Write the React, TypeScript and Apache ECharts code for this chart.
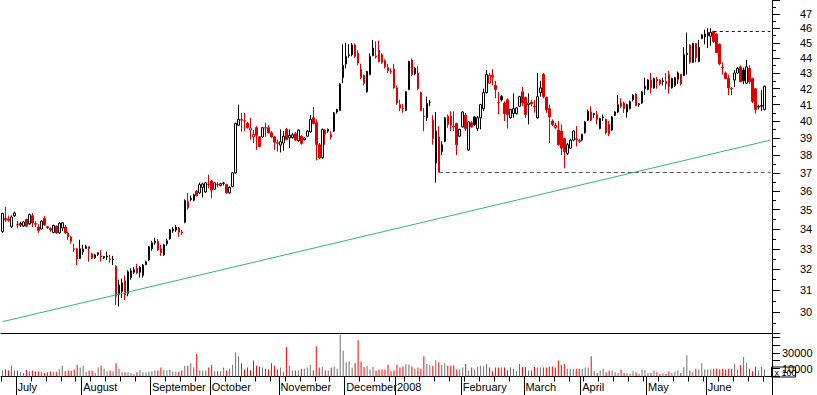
import React, { useEffect, useRef } from 'react';
import * as echarts from 'echarts';

// [open, close, low, high] per trading day, grouped by month
const jun07 = [
  [33.87, 34.8, 33.8, 34.84], [34.55, 34.47, 34.37, 35.15], [34.5, 34.45, 34.37, 34.7], [34.12, 34.62, 34.05, 34.7], [34.68, 34.83, 34.62, 34.9],
];
const jul07 = [
  [34.22, 34.2, 34.04, 34.42], [34.2, 34.28, 34.1, 34.37], [34.15, 34.36, 34.1, 34.4], [34.5, 34.14, 34.1, 34.52], [34.26, 34.75, 34.22, 34.8],
  [34.68, 34.32, 34.1, 34.82], [34.27, 34.25, 34.1, 34.4], [34.1, 33.92, 33.8, 34.25], [34.0, 34.4, 33.98, 34.45], [34.55, 34.2, 34.18, 34.68],
  [34.12, 34.06, 34.0, 34.15], [34.02, 33.95, 33.86, 34.08], [33.82, 34.18, 33.78, 34.22], [34.14, 33.8, 33.75, 34.18], [33.8, 34.3, 33.75, 34.35],
  [34.05, 34.32, 33.9, 34.35], [34.1, 33.8, 33.76, 34.2], [33.78, 33.6, 33.45, 33.86], [33.58, 33.38, 33.25, 33.65], [33.0, 32.97, 32.85, 33.25],
  [33.0, 32.5, 32.2, 33.05], [33.0, 32.52, 32.5, 33.45],
];
const aug07 = [
  [32.85, 32.98, 32.7, 33.2], [33.02, 33.12, 33.0, 33.2], [33.0, 33.1, 32.37, 33.12], [32.75, 32.53, 32.5, 32.8], [32.55, 32.7, 32.5, 32.75],
  [32.8, 32.72, 32.65, 32.82], [32.65, 32.6, 32.37, 32.94], [32.55, 32.62, 32.5, 32.65], [32.6, 32.64, 32.45, 32.86], [32.5, 32.48, 32.32, 32.7],
  [32.47, 32.5, 32.2, 32.65], [32.15, 30.72, 30.32, 32.2], [30.8, 31.25, 30.25, 31.5], [30.95, 31.35, 30.65, 31.55], [31.45, 30.78, 30.55, 31.7],
  [30.85, 31.88, 30.72, 31.95], [31.6, 31.92, 31.5, 32.05], [31.85, 31.98, 31.78, 32.1], [32.05, 31.82, 31.78, 32.26], [31.85, 32.1, 31.6, 32.15],
  [31.7, 32.2, 31.6, 32.25], [32.22, 32.36, 32.2, 32.42], [32.45, 33.1, 32.4, 33.15],
];
const sep07 = [
  [33.0, 33.3, 32.9, 33.4], [33.3, 33.38, 33.2, 33.55], [33.36, 32.95, 32.9, 33.5], [33.0, 32.8, 32.65, 33.2], [32.7, 33.2, 32.65, 33.25],
  [33.25, 33.4, 33.15, 33.5], [33.5, 33.95, 33.45, 34.0], [33.9, 34.0, 33.8, 34.1], [33.95, 34.1, 33.85, 34.2], [34.05, 33.85, 33.6, 34.1],
  [33.85, 33.8, 33.7, 33.95], [34.35, 35.5, 34.3, 35.55], [35.1, 35.45, 35.0, 35.9], [35.6, 35.55, 35.45, 35.75], [35.5, 35.8, 35.45, 35.85],
  [36.0, 35.75, 35.7, 36.05], [35.9, 36.35, 35.85, 36.45], [36.2, 36.38, 35.65, 36.45], [35.95, 36.45, 35.9, 36.5], [36.38, 36.36, 36.15, 36.9],
];
const oct07 = [
  [36.55, 36.05, 35.6, 36.6], [36.1, 36.45, 36.05, 36.5], [36.37, 36.35, 36.2, 36.5], [36.3, 36.4, 36.25, 36.45], [36.42, 36.44, 36.3, 36.5],
  [36.35, 35.9, 35.85, 36.4], [35.9, 36.2, 35.85, 36.25], [36.25, 37.0, 36.2, 37.05], [37.0, 39.86, 36.95, 39.9], [39.75, 40.1, 39.7, 41.0],
  [40.08, 40.06, 39.36, 40.5], [40.02, 40.0, 39.4, 40.5], [39.86, 39.6, 39.55, 39.95], [39.46, 39.58, 38.9, 40.2], [39.06, 39.2, 38.7, 39.46],
  [39.6, 39.15, 38.3, 39.7], [39.06, 38.5, 38.45, 39.1], [39.06, 39.6, 39.0, 39.65], [39.6, 39.58, 39.06, 39.9], [39.6, 39.3, 39.25, 39.75],
  [39.3, 39.06, 39.0, 39.4], [39.06, 38.75, 38.3, 39.1], [38.68, 38.72, 38.2, 38.9],
];
const nov07 = [
  [38.58, 38.77, 38.15, 39.5], [38.7, 39.1, 38.25, 39.4], [39.5, 38.9, 38.85, 39.6], [39.0, 39.15, 38.4, 39.5], [39.02, 39.18, 38.95, 39.3],
  [39.25, 38.87, 38.8, 39.35], [38.83, 39.46, 38.78, 39.5], [39.1, 38.68, 38.6, 39.15], [38.9, 39.0, 38.85, 39.05], [39.1, 39.4, 39.05, 39.45],
  [39.36, 40.1, 39.3, 40.36], [40.2, 39.86, 39.8, 40.85], [39.9, 38.6, 37.7, 40.1], [38.6, 37.85, 37.78, 38.7], [37.85, 39.5, 37.8, 39.55],
  [39.46, 39.22, 38.6, 39.5], [39.4, 39.5, 39.3, 39.55], [39.05, 39.2, 38.9, 39.4], [39.4, 40.5, 39.35, 40.55], [40.7, 40.55, 40.45, 40.75],
  [40.65, 42.3, 40.6, 42.35], [42.7, 43.5, 42.35, 44.9],
];
const dec07 = [
  [43.6, 44.1, 43.3, 45.0], [44.15, 44.2, 44.0, 44.9], [44.2, 44.85, 44.1, 45.0], [44.85, 44.1, 44.0, 44.95], [44.3, 43.65, 43.5, 44.5],
  [43.25, 42.7, 42.6, 43.6], [42.85, 42.35, 42.2, 42.9], [41.8, 43.1, 41.75, 43.15], [42.9, 44.1, 42.85, 44.3], [44.65, 44.15, 44.1, 45.2],
  [44.05, 44.12, 43.95, 45.1], [44.5, 43.75, 43.7, 45.15], [44.2, 43.7, 43.6, 44.3], [43.8, 43.4, 43.3, 43.9], [43.15, 43.35, 43.0, 43.6],
  [43.12, 43.1, 42.95, 43.3], [43.25, 42.05, 42.0, 43.6],
];
const jan08 = [
  [42.05, 41.1, 41.0, 42.2], [41.0, 40.78, 40.6, 41.3], [40.8, 40.75, 40.5, 41.05], [40.65, 41.8, 40.6, 41.85], [41.95, 43.75, 41.9, 43.8],
  [43.85, 42.9, 42.8, 43.95], [43.3, 42.95, 42.85, 43.4], [43.0, 42.0, 41.9, 43.45], [41.75, 40.65, 40.6, 41.8], [40.3, 40.28, 39.4, 40.8],
  [40.2, 41.08, 40.0, 41.5], [41.15, 41.15, 40.9, 41.3], [40.05, 38.95, 38.6, 40.35], [37.55, 39.4, 36.46, 40.55], [39.06, 37.05, 37.05, 39.7],
  [38.2, 38.6, 38.0, 38.8], [38.8, 40.2, 38.75, 40.25], [40.3, 39.8, 39.6, 40.4], [40.3, 39.75, 39.4, 40.6], [39.65, 39.7, 39.4, 40.6],
  [39.86, 38.6, 38.0, 39.9], [39.1, 39.5, 39.05, 39.55],
];
const feb08 = [
  [39.65, 40.55, 39.6, 40.6], [40.35, 39.55, 39.4, 40.5], [38.3, 39.95, 38.25, 40.0], [39.9, 39.65, 39.6, 40.0], [40.25, 39.8, 39.7, 40.3],
  [39.55, 40.2, 39.4, 40.3], [40.2, 41.0, 39.5, 41.05], [40.75, 41.75, 40.6, 42.0], [41.75, 42.9, 41.7, 43.2], [42.35, 42.85, 42.3, 43.0],
  [42.85, 42.75, 42.2, 43.25], [42.2, 41.95, 41.4, 42.5], [41.12, 41.1, 40.4, 41.8], [41.5, 41.3, 41.2, 41.6], [41.1, 40.45, 40.0, 41.2],
  [41.3, 40.4, 39.55, 41.4], [40.2, 40.7, 40.15, 40.75], [40.45, 40.75, 40.2, 41.7], [40.45, 40.8, 40.4, 40.85], [40.9, 41.5, 40.85, 41.55],
  [41.8, 41.1, 40.9, 42.1],
];
const mar08 = [
  [41.45, 40.4, 40.2, 41.5], [41.0, 41.1, 39.8, 41.7], [41.15, 41.05, 40.9, 41.3], [40.9, 40.85, 40.5, 41.3], [40.2, 41.5, 40.15, 43.0],
  [41.75, 42.05, 41.5, 42.5], [42.9, 41.5, 41.4, 43.0], [41.45, 40.67, 40.5, 41.5], [40.75, 40.25, 38.7, 41.0], [40.0, 39.8, 39.7, 40.1],
  [39.6, 39.75, 39.5, 39.9], [39.46, 38.6, 38.55, 40.0], [39.4, 38.4, 38.0, 39.8], [38.95, 38.2, 37.25, 39.0], [38.1, 38.6, 38.0, 38.7],
  [38.4, 38.87, 38.35, 38.95], [38.87, 39.4, 38.8, 39.45], [38.95, 38.9, 38.5, 39.7], [38.8, 38.85, 38.7, 38.95],
];
const apr08 = [
  [38.87, 39.2, 38.8, 39.25], [39.3, 39.95, 39.25, 40.0], [40.05, 40.6, 40.0, 40.7], [40.55, 40.05, 40.0, 40.9], [40.45, 40.4, 40.2, 40.5],
  [40.4, 40.1, 39.8, 40.6], [39.55, 40.15, 39.5, 40.2], [40.2, 40.25, 40.0, 40.4], [40.1, 39.3, 39.2, 40.15], [39.8, 39.25, 39.1, 40.0],
  [40.25, 39.46, 39.4, 40.3], [40.35, 40.55, 40.3, 40.6], [40.55, 41.0, 40.5, 41.6], [41.1, 40.9, 40.8, 41.4], [41.1, 40.75, 40.5, 41.2],
  [40.55, 41.0, 40.2, 41.05], [40.75, 41.2, 40.7, 41.25], [41.3, 41.6, 41.2, 41.65], [41.65, 40.95, 40.9, 41.7], [41.05, 41.0, 40.85, 41.1],
  [41.1, 41.8, 41.05, 41.85], [42.0, 42.15, 41.6, 42.7],
];
const may08 = [
  [41.95, 42.55, 41.9, 42.6], [42.55, 42.05, 41.7, 43.0], [42.05, 42.65, 42.0, 42.7], [42.6, 42.5, 42.0, 42.75], [42.55, 42.3, 42.2, 42.6],
  [42.45, 42.5, 42.2, 42.7], [42.3, 42.45, 41.95, 43.0], [42.9, 42.15, 41.7, 43.15], [42.05, 42.65, 42.0, 42.7], [42.2, 42.7, 42.1, 42.75],
  [42.6, 43.0, 42.3, 43.1], [42.9, 42.3, 42.2, 42.95], [42.85, 44.2, 42.8, 44.7], [44.2, 44.3, 42.9, 45.7], [44.85, 43.7, 43.6, 44.9],
  [43.7, 44.95, 43.65, 45.0], [44.95, 44.0, 43.7, 45.0], [43.75, 44.7, 43.7, 45.2], [45.3, 45.55, 45.25, 45.6], [45.4, 45.6, 44.9, 45.9],
];
const jun08 = [
  [45.5, 45.7, 44.65, 46.0], [45.45, 45.72, 44.8, 46.0], [45.79, 45.1, 45.0, 45.8], [45.6, 44.35, 44.3, 45.65], [44.9, 43.6, 43.5, 44.95],
  [43.38, 43.35, 42.9, 43.7], [43.0, 42.65, 42.6, 43.1], [42.65, 42.05, 41.6, 42.9], [42.02, 42.0, 41.6, 42.1], [42.55, 43.0, 42.1, 43.2],
  [43.0, 43.3, 42.95, 43.4], [43.4, 42.45, 42.4, 43.5], [43.2, 42.5, 42.3, 43.35], [42.35, 43.4, 42.3, 43.85], [43.3, 42.45, 42.3, 43.5],
  [42.65, 41.2, 41.1, 42.7], [42.0, 40.7, 40.45, 42.05], [40.85, 40.9, 40.7, 41.0], [40.9, 40.95, 40.6, 41.9], [40.7, 42.15, 40.65, 42.2],
];

// daily volume (axis units, shown "x 100")
const volJun07 = [7650, 9000, 7650, 13500, 7650];
const volJul07 = [7650, 5400, 4500, 8100, 6750, 7200, 6300, 6750, 5850, 4500, 5400, 6750, 5850, 5850, 9000, 13500, 6750, 7650, 7200, 9000, 14850, 11250];
const volAug07 = [13500, 5850, 7650, 7650, 4500, 11250, 13500, 9900, 6750, 7650, 6750, 16650, 9900, 5400, 5400, 5400, 4500, 3150, 5400, 8100, 5400, 5400, 5850];
const volSep07 = [6750, 7650, 7650, 11250, 8100, 7650, 8100, 5850, 5850, 5850, 7650, 13500, 13500, 16650, 11250, 28350, 7650, 7650, 7650, 11250];
const volOct07 = [14850, 6750, 6750, 6750, 11250, 7650, 9900, 14850, 30600, 25650, 16650, 9000, 11250, 8000, 20250, 13500, 12600, 11250, 9900, 9000, 16650, 13500, 9000];
const volNov07 = [11250, 5850, 36900, 13500, 7650, 7650, 7650, 9900, 9900, 11250, 14850, 7650, 38250, 11250, 12150, 7650, 7650, 11250, 12600, 9900, 52650, 32400];
const volDec07 = [18000, 18900, 11250, 16650, 45900, 18900, 12150, 13500, 9000, 12150, 7650, 9000, 9000, 9000, 14850, 6750, 7650];
const volJan08 = [14850, 11250, 12600, 15750, 14850, 12600, 9900, 11250, 9900, 25650, 15750, 14850, 13500, 20250, 18000, 14850, 16650, 13500, 13500, 14000, 9000, 9000];
const volFeb08 = [11250, 15750, 7650, 11250, 9000, 12150, 13500, 12600, 15750, 11250, 6750, 11250, 11250, 11250, 11250, 7650, 11250, 9900, 6750, 15750, 12150];
const volMar08 = [12150, 7650, 7650, 12150, 11250, 11250, 11250, 11250, 12600, 12600, 11250, 20250, 14850, 15750, 9900, 9900, 9900, 9900, 9900];
const volApr08 = [9900, 11250, 11250, 25650, 6750, 4500, 7650, 9900, 5400, 7650, 7650, 5400, 4500, 9000, 4500, 4500, 3150, 6750, 5400, 3150, 9000, 8100];
const volMay08 = [4500, 4500, 7650, 5400, 3150, 4500, 3150, 6750, 4500, 5850, 7650, 4500, 12150, 27000, 7650, 5850, 9900, 9000, 16650, 9000];
const volJun08 = [9000, 9000, 9900, 9900, 9000, 9900, 9000, 9900, 9900, 15750, 9000, 14400, 24750, 16650, 9900, 6750, 12600, 7650, 12150, 9000];

const monthLabels = ['', 'July', 'August', 'September', 'October', 'November', 'December', '2008', 'February', 'March', 'April', 'May', 'June'];
const monthCandles = [jun07, jul07, aug07, sep07, oct07, nov07, dec07, jan08, feb08, mar08, apr08, may08, jun08];
const monthVolumes = [volJun07, volJul07, volAug07, volSep07, volOct07, volNov07, volDec07, volJan08, volFeb08, volMar08, volApr08, volMay08, volJun08];
const emptySlots = 2;

const priceTicks = [30, 31, 32, 33, 34, 35, 36, 37, 38, 39, 40, 41, 42, 43, 44, 45, 46, 47, 48];
const priceLabels = [30, 31, 32, 33, 34, 35, 36, 37, 38, 39, 40, 41, 42, 43, 44, 45, 46, 47];
const priceMinorTicks = [29.5, 30.5, 31.5, 32.5, 33.5, 34.5, 35.5, 36.5, 37.5, 38.5, 39.5, 40.5, 41.5, 42.5, 43.5, 44.5, 45.5, 46.5, 47.5];
const volumeLabels = [10000, 30000];

const supportLevel = 37.05;
const supportStartIndex = 146;
const resistanceLevel = 45.8;
const resistanceStartIndex = 238;
const trendStart = 29.57;
const trendEnd = 38.87;

const RED = '#e00000';
const BLACK = '#000000';
const FONT = 'Arial, "Liberation Sans", sans-serif';

export default function App() {
  const ref = useRef<HTMLDivElement>(null);
  useEffect(() => {
    if (!ref.current) return;
    const chart = echarts.init(ref.current, undefined, { renderer: 'svg' });

    const categories: string[] = [];
    const monthStart = new Map<number, string>();
    const ohlc: number[][] = [];
    const vols: number[] = [];
    monthCandles.forEach((arr, m) => {
      if (monthLabels[m]) monthStart.set(categories.length, monthLabels[m]);
      arr.forEach((c, d) => {
        categories.push(`${m}-${d + 1}`);
        ohlc.push(c);
        vols.push(monthVolumes[m][d]);
      });
    });
    for (let k = 0; k < emptySlots; k++) categories.push(`pad-${k}`);
    const last = categories[categories.length - 1];

    const candleData = ohlc.map(([o, c, l, h], i) => {
      const prev = i > 0 ? ohlc[i - 1][1] : o;
      const col = c < prev ? RED : BLACK;
      const fill = c > o ? '#ffffff' : col;
      return {
        value: [o, c, l, h],
        itemStyle: { color: fill, color0: fill, borderColor: col, borderColor0: col, borderColorDoji: col, borderWidth: 1 },
      };
    });
    const volData = vols.map((v, i) => {
      const prev = i > 0 ? ohlc[i - 1][1] : ohlc[i][0];
      return { value: v, itemStyle: { color: ohlc[i][1] < prev ? '#ff0000' : '#6e6e6e' } };
    });

    const weekTick = (i: number) => i % 5 === 0;

    chart.setOption({
      animation: false,
      backgroundColor: '#ffffff',
      grid: [
        { left: 1, top: 0, width: 771, height: 333 },
        { left: 1, top: 333, width: 771, height: 43.5 },
      ],
      xAxis: [
        {
          type: 'category', gridIndex: 0, data: categories, position: 'bottom',
          axisLine: { show: true, lineStyle: { color: BLACK, width: 1 } },
          axisTick: { show: false }, axisLabel: { show: false }, splitLine: { show: false },
        },
        {
          type: 'category', gridIndex: 1, data: categories, position: 'bottom',
          axisLine: { show: true, lineStyle: { color: BLACK, width: 1 } },
          axisTick: { show: true, interval: (i: number) => weekTick(i), length: 5, lineStyle: { color: BLACK } },
          axisLabel: { show: false }, splitLine: { show: false },
        },
        {
          type: 'category', gridIndex: 1, data: categories, position: 'bottom',
          axisLine: { show: false },
          axisTick: { show: true, interval: (i: number) => monthStart.has(i), length: 19, lineStyle: { color: BLACK } },
          axisLabel: {
            show: true, interval: (i: number) => monthStart.has(i),
            formatter: (_v: string, i: number) => monthStart.get(i) || '',
            align: 'left', margin: 5, color: BLACK, fontSize: 11, fontFamily: FONT,
          },
          splitLine: { show: false },
        },
      ],
      yAxis: [
        {
          type: 'log', logBase: 10, gridIndex: 0, position: 'right', min: 29.07, max: 48,
          axisLine: { show: true, lineStyle: { color: BLACK, width: 1 } },
          axisTick: { show: true, customValues: priceTicks, length: 8, lineStyle: { color: BLACK } },
          axisLabel: { show: true, customValues: priceLabels, margin: 28, color: BLACK, fontSize: 11, fontFamily: FONT, formatter: (v: number) => String(Math.round(v)) },
          splitLine: { show: false }, minorTick: { show: false },
        },
        {
          type: 'log', logBase: 10, gridIndex: 0, position: 'right', min: 29.07, max: 48,
          axisLine: { show: false },
          axisTick: { show: true, customValues: priceMinorTicks, length: 4, lineStyle: { color: BLACK } },
          axisLabel: { show: false }, splitLine: { show: false },
        },
        {
          type: 'value', gridIndex: 1, position: 'right', min: 0, max: 55000, interval: 10000,
          axisLine: { show: true, lineStyle: { color: BLACK, width: 1 } },
          axisTick: { show: true, length: 8, lineStyle: { color: BLACK } },
          axisLabel: {
            show: true, margin: 10, color: BLACK, fontSize: 11, fontFamily: FONT,
            formatter: (v: number) => (volumeLabels.indexOf(v) >= 0 ? String(v) : ''),
          },
          splitLine: { show: false },
        },
      ],
      series: [
        {
          type: 'candlestick', xAxisIndex: 0, yAxisIndex: 0, data: candleData, barWidth: 2,
          markLine: {
            silent: true, symbol: ['none', 'none'], label: { show: false },
            data: [
              [
                { coord: [categories[supportStartIndex], supportLevel], lineStyle: { color: '#555555', type: [4, 3], width: 1 } },
                { coord: [last, supportLevel] },
              ],
              [
                { coord: [categories[resistanceStartIndex], resistanceLevel], lineStyle: { color: '#0000cc', type: [3, 3], width: 1 } },
                { coord: [last, resistanceLevel] },
              ],
              [
                { coord: [categories[0], trendStart], lineStyle: { color: '#3cb371', type: 'solid', width: 1 } },
                { coord: [last, trendEnd] },
              ],
            ],
          },
        },
        {
          type: 'bar', xAxisIndex: 1, yAxisIndex: 2, data: volData, barWidth: 1,
        },
      ],
      graphic: [
        {
          type: 'group', left: 771, top: 366.5, z: 100,
          children: [
            { type: 'rect', shape: { x: 0, y: 0, width: 24, height: 10 }, style: { fill: '#ffffff', stroke: BLACK, lineWidth: 1 } },
            { type: 'text', x: 3, y: 1, style: { text: 'x 100', fontSize: 9, fontFamily: FONT, fill: BLACK } },
          ],
        },
      ],
    });
    return () => chart.dispose();
  }, []);
  return <div ref={ref} style={{ position: 'fixed', left: 0, top: 0, width: 817, height: 395 }} />;
}
